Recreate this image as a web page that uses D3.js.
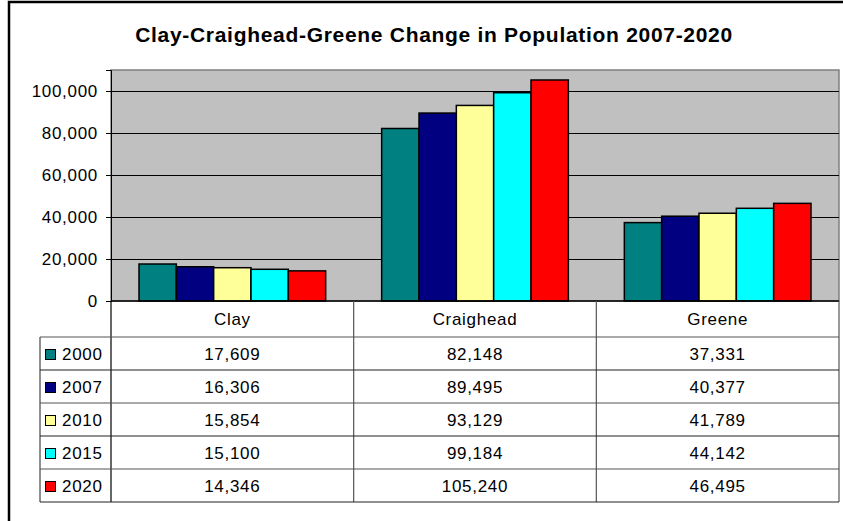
<!DOCTYPE html>
<html>
<head>
<meta charset="utf-8">
<script src="https://cdn.jsdelivr.net/npm/d3@7"></script>
<style>
  html, body { margin: 0; padding: 0; background: #fff; }
  svg { display: block; font-family: "Liberation Sans", Arial, sans-serif; }
  svg text { letter-spacing: 0.7px; }
</style>
</head>
<body>
<svg id="chart" width="843" height="521"></svg>
<script>
// Population by county and year
const counties = ["Clay", "Craighead", "Greene"];
const years = ["2000", "2007", "2010", "2015", "2020"];
const pop2000 = [17609, 82148, 37331];
const pop2007 = [16306, 89495, 40377];
const pop2010 = [15854, 93129, 41789];
const pop2015 = [15100, 99184, 44142];
const pop2020 = [14346, 105240, 46495];
const yTicks = [0, 20000, 40000, 60000, 80000, 100000];
const colors = ["#008080", "#000080", "#ffff99", "#00ffff", "#ff0000"];

const series = [pop2000, pop2007, pop2010, pop2015, pop2020];

const svg = d3.select("#chart");
const fmt = d3.format(",");
const fs = 17;

// Outer frame
svg.append("rect").attr("x", 9).attr("y", 2).attr("width", 900).attr("height", 600)
  .attr("fill", "#fff").attr("stroke", "#000").attr("stroke-width", 2.5);

// Title
svg.append("text").attr("x", 434).attr("y", 42).attr("text-anchor", "middle")
  .attr("font-size", 21).attr("font-weight", "bold").text("Clay-Craighead-Greene Change in Population 2007-2020");

const plot = { left: 111, right: 839, top: 70, bottom: 301 };

const x = d3.scaleBand().domain(counties).range([plot.left, plot.right]).paddingInner(0).paddingOuter(0);
const y = d3.scaleLinear().domain([0, 110000]).range([plot.bottom, plot.top]);
const groupPad = 28;
const xs = d3.scaleBand().domain(years).range([groupPad, x.bandwidth() - groupPad]).padding(0);

// Plot background
svg.append("rect").attr("x", plot.left).attr("y", plot.top)
  .attr("width", plot.right - plot.left).attr("height", plot.bottom - plot.top)
  .attr("fill", "#c0c0c0").attr("stroke", "#808080").attr("stroke-width", 1.5);

// Gridlines
svg.append("g").selectAll("line").data(yTicks.filter(d => d > 0)).join("line")
  .attr("x1", plot.left).attr("x2", plot.right)
  .attr("y1", d => Math.round(y(d)) + 0.5).attr("y2", d => Math.round(y(d)) + 0.5)
  .attr("stroke", "#000").attr("stroke-width", 1);

// Y axis
const yAxis = d3.axisLeft(y).tickValues(yTicks).tickFormat(fmt).tickSize(5).tickPadding(8);
const ga = svg.append("g").attr("transform", `translate(${plot.left},0)`).call(yAxis);
ga.select(".domain").attr("stroke", "#000");
ga.selectAll(".tick line").attr("stroke", "#000");
ga.selectAll(".tick text").attr("font-size", fs).attr("fill", "#000")
  .attr("font-family", "\"Liberation Sans\", Arial, sans-serif");

// Bars
const groups = svg.append("g").selectAll("g").data(counties).join("g")
  .attr("transform", d => `translate(${x(d)},0)`);
groups.selectAll("rect").data((c, ci) => years.map((yr, si) => ({ yr, si, v: series[si][ci] })))
  .join("rect")
  .attr("x", d => xs(d.yr))
  .attr("y", d => y(d.v))
  .attr("width", xs.bandwidth())
  .attr("height", d => plot.bottom - y(d.v))
  .attr("fill", d => colors[d.si])
  .attr("stroke", "#000").attr("stroke-width", 1.5);

// Baseline
svg.append("line").attr("x1", plot.left).attr("x2", plot.right)
  .attr("y1", plot.bottom).attr("y2", plot.bottom).attr("stroke", "#000").attr("stroke-width", 1.5);

// Data table
const tbl = { legendLeft: 40, headerTop: 301, headerBottom: 337, rowH: 33 };
const rowTop = i => tbl.headerBottom + i * tbl.rowH;
const tableBottom = rowTop(years.length);
const tg = svg.append("g");

// Column separators
counties.forEach(c => {
  const cx = x(c) + x.bandwidth();
  tg.append("line").attr("x1", cx).attr("x2", cx).attr("y1", plot.bottom).attr("y2", tableBottom)
    .attr("stroke", "#555").attr("stroke-width", 1.2);
});
tg.append("line").attr("x1", plot.left).attr("x2", plot.left).attr("y1", plot.bottom).attr("y2", tableBottom)
  .attr("stroke", "#000").attr("stroke-width", 1.2);
// Legend column left edge
tg.append("line").attr("x1", tbl.legendLeft).attr("x2", tbl.legendLeft)
  .attr("y1", tbl.headerBottom).attr("y2", tableBottom).attr("stroke", "#444").attr("stroke-width", 1.2);

// Row lines
d3.range(years.length + 1).forEach(i => {
  tg.append("line").attr("x1", tbl.legendLeft).attr("x2", plot.right)
    .attr("y1", rowTop(i)).attr("y2", rowTop(i))
    .attr("stroke", i % 2 === 0 ? "#555" : "#222").attr("stroke-width", 1.2);
});

// Header labels
tg.selectAll("text.hdr").data(counties).join("text").attr("class", "hdr")
  .attr("x", d => x(d) + x.bandwidth() / 2).attr("y", tbl.headerTop + 24)
  .attr("text-anchor", "middle").attr("font-size", fs).text(d => d);

// Rows: legend key + values
years.forEach((yr, si) => {
  const ty = rowTop(si) + tbl.rowH / 2 + 6.5;
  tg.append("rect").attr("x", 45.5).attr("y", rowTop(si) + tbl.rowH / 2 - 4)
    .attr("width", 10).attr("height", 10).attr("fill", colors[si]).attr("stroke", "#000").attr("stroke-width", 1);
  tg.append("text").attr("x", 62).attr("y", ty).attr("font-size", fs).text(yr);
  counties.forEach((c, ci) => {
    tg.append("text").attr("x", x(c) + x.bandwidth() / 2).attr("y", ty)
      .attr("text-anchor", "middle").attr("font-size", fs).text(fmt(series[si][ci]));
  });
});
</script>
</body>
</html>
